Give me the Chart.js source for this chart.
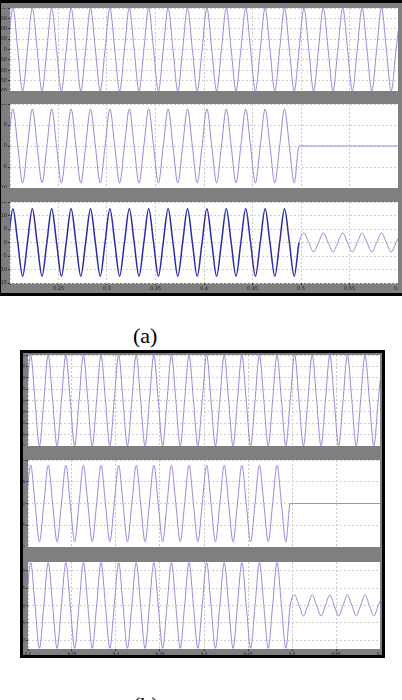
<!DOCTYPE html>
<html>
<head>
<meta charset="utf-8">
<script src="https://cdn.jsdelivr.net/npm/chart.js@4.4.0/dist/chart.umd.min.js"></script>
<style>
  body { margin: 0; width: 402px; height: 700px; background: #fff; position: relative; overflow: hidden; }
  .frame { position: absolute; background: #7f7f7f; box-sizing: border-box; }
  canvas { position: absolute; }
  .cap { position: absolute; font-family: "Liberation Serif", serif; font-size: 22px; line-height: 22px; color: #000; }
</style>
</head>
<body>
<div class="frame" style="left:0;top:0;width:402px;height:296px;border-top:3px solid #000;border-bottom:3px solid #000;border-left:1px solid #000;"></div>
<div class="frame" style="left:20px;top:350px;width:365px;height:308px;border:3px solid #000;"></div>

<canvas id="a1" width="398" height="83" style="left:0;top:8px"></canvas>
<canvas id="a2" width="398" height="84" style="left:0;top:104px"></canvas>
<canvas id="a3" width="398" height="91" style="left:0;top:202px"></canvas>

<canvas id="b1" width="357" height="91" style="left:23px;top:355px"></canvas>
<canvas id="b2" width="357" height="87" style="left:23px;top:460px"></canvas>
<canvas id="b3" width="357" height="95" style="left:23px;top:562px"></canvas>

<div class="cap" style="left:133px;top:325px">(a)</div>
<div class="cap" style="left:133px;top:694px">(b)</div>

<script>
// time stamps (s): zero crossings and peaks
const times = [
  0.198, 0.203, 0.208, 0.213, 0.218, 0.223, 0.228, 0.233, 0.238, 0.243,
  0.248, 0.253, 0.258, 0.263, 0.268, 0.273, 0.278, 0.283, 0.288, 0.293,
  0.298, 0.303, 0.308, 0.313, 0.318, 0.323, 0.328, 0.333, 0.338, 0.343,
  0.348, 0.353, 0.358, 0.363, 0.368, 0.373, 0.378, 0.383, 0.388, 0.393,
  0.398, 0.403, 0.408, 0.413, 0.418, 0.423, 0.428, 0.433, 0.438, 0.443,
  0.448, 0.453, 0.458, 0.463, 0.468, 0.473, 0.478, 0.483, 0.488, 0.493,
  0.498, 0.503, 0.508, 0.513, 0.518, 0.523, 0.528, 0.533, 0.538, 0.543,
  0.548, 0.553, 0.558, 0.563, 0.568, 0.573, 0.578, 0.583, 0.588, 0.593,
  0.598, 0.603
];

// (a) top: source voltage
const voltageA = [
  0, 200, 0, -200, 0, 200, 0, -200, 0, 200,
  0, -200, 0, 200, 0, -200, 0, 200, 0, -200,
  0, 200, 0, -200, 0, 200, 0, -200, 0, 200,
  0, -200, 0, 200, 0, -200, 0, 200, 0, -200,
  0, 200, 0, -200, 0, 200, 0, -200, 0, 200,
  0, -200, 0, 200, 0, -200, 0, 200, 0, -200,
  0, 200, 0, -200, 0, 200, 0, -200, 0, 200,
  0, -200, 0, 200, 0, -200, 0, 200, 0, -200,
  0, 200
];
// (a) middle: compensating current, off after 0.5 s
const currentA = [
  0, 8.8, 0, -8.8, 0, 8.8, 0, -8.8, 0, 8.8,
  0, -8.8, 0, 8.8, 0, -8.8, 0, 8.8, 0, -8.8,
  0, 8.8, 0, -8.8, 0, 8.8, 0, -8.8, 0, 8.8,
  0, -8.8, 0, 8.8, 0, -8.8, 0, 8.8, 0, -8.8,
  0, 8.8, 0, -8.8, 0, 8.8, 0, -8.8, 0, 8.8,
  0, -8.8, 0, 8.8, 0, -8.8, 0, 8.8, 0, -8.8,
  0, 0, 0, 0, 0, 0, 0, 0, 0, 0,
  0, 0, 0, 0, 0, 0, 0, 0, 0, 0,
  0, 0
];
// (a) bottom: line current
const lineA = [
  0, 12.5, 0, -12.5, 0, 12.5, 0, -12.5, 0, 12.5,
  0, -12.5, 0, 12.5, 0, -12.5, 0, 12.5, 0, -12.5,
  0, 12.5, 0, -12.5, 0, 12.5, 0, -12.5, 0, 12.5,
  0, -12.5, 0, 12.5, 0, -12.5, 0, 12.5, 0, -12.5,
  0, 12.5, 0, -12.5, 0, 12.5, 0, -12.5, 0, 12.5,
  0, -12.5, 0, 12.5, 0, -12.5, 0, 12.5, 0, -12.5,
  0, 3.5, 0, -3.5, 0, 3.5, 0, -3.5, 0, 3.5,
  0, -3.5, 0, 3.5, 0, -3.5, 0, 3.5, 0, -3.5,
  0, 3.5
];

const voltageB = voltageA.slice();
const currentB = currentA.slice();
const lineB = [
  0, 12.3, 0, -12.3, 0, 12.3, 0, -12.3, 0, 12.3,
  0, -12.3, 0, 12.3, 0, -12.3, 0, 12.3, 0, -12.3,
  0, 12.3, 0, -12.3, 0, 12.3, 0, -12.3, 0, 12.3,
  0, -12.3, 0, 12.3, 0, -12.3, 0, 12.3, 0, -12.3,
  0, 12.3, 0, -12.3, 0, 12.3, 0, -12.3, 0, 12.3,
  0, -12.3, 0, 12.3, 0, -12.3, 0, 12.3, 0, -12.3,
  0, 3, 0, -3, 0, 3, 0, -3, 0, 3,
  0, -3, 0, 3, 0, -3, 0, 3, 0, -3,
  0, 3
];

// tick labels
const xTicks = [0.2, 0.25, 0.3, 0.35, 0.4, 0.45, 0.5, 0.55, 0.6];
const yTicksV = [-200, -150, -100, -50, 0, 50, 100, 150, 200];
const yTicksI = [-10, -5, 0, 5, 10];
const yTicksLA = [-15, -10, -5, 0, 5, 10, 15];
const yTicksLB = [-10, -5, 0, 5, 10];

const lightBlue = '#8e8ed8';
const darkBlue = '#2a2aa6';

// white plot area on the grey scope background
const whiteArea = {
  id: 'whiteArea',
  beforeDraw(chart) {
    const { ctx, chartArea: a } = chart;
    ctx.save();
    ctx.fillStyle = '#fff';
    ctx.fillRect(a.left, a.top, a.width, a.height);
    ctx.restore();
  }
};

function fmt(v) {
  return String(Number(v.toFixed(2)));
}

function makePanel(id, values, yTicks, o) {
  const ctx = document.getElementById(id).getContext('2d');
  const ds = {
    data: times.map((t, i) => ({ x: t, y: values[i] })),
    borderColor: lightBlue,
    borderWidth: 1,
    pointRadius: 0,
    cubicInterpolationMode: 'monotone'
  };
  if (o.darkUntil) {
    ds.segment = {
      borderColor: c => c.p0.parsed.x < o.darkUntil ? darkBlue : lightBlue,
      borderWidth: c => c.p0.parsed.x < o.darkUntil ? 1.5 : 1
    };
  }
  return new Chart(ctx, {
    type: 'line',
    data: { datasets: [ds] },
    plugins: [whiteArea],
    options: {
      responsive: false,
      animation: false,
      devicePixelRatio: 1,
      layout: { padding: 0 },
      plugins: { legend: { display: false }, tooltip: { enabled: false } },
      scales: {
        x: {
          type: 'linear',
          min: 0.2,
          max: 0.6,
          afterBuildTicks: s => { s.ticks = xTicks.map(v => ({ value: v })); },
          afterFit: s => {
            s.height = o.xh;
            s.paddingLeft = 0;
            s.paddingRight = 0;
          },
          ticks: {
            display: o.xh > 0,
            font: { size: o.font, family: 'DejaVu Sans' },
            color: '#222',
            padding: 1,
            maxRotation: 0,
            autoSkip: false,
            callback: v => (o.skipFirstX && v === 0.2) ? '' : fmt(v)
          },
          grid: { color: '#c9c9c9', tickLength: 2, drawTicks: o.xh > 0, tickColor: '#333' },
          border: { display: false, dash: [2, 2] }
        },
        y: {
          min: yTicks[0] - (o.yPad || 0),
          max: yTicks[yTicks.length - 1] + (o.yPad || 0),
          afterBuildTicks: s => { s.ticks = yTicks.map(v => ({ value: v })); },
          afterFit: s => {
            s.width = o.yw;
            s.paddingTop = 0;
            s.paddingBottom = 0;
          },
          ticks: {
            font: { size: o.font, family: 'DejaVu Sans' },
            color: '#222',
            padding: 1,
            autoSkip: false
          },
          grid: { color: '#cfcfcf', tickLength: 2, tickColor: '#333' },
          border: { display: false, dash: [2, 2] }
        }
      }
    }
  });
}

makePanel('a1', voltageA, yTicksV, { yw: 10, xh: 0, font: 5 });
makePanel('a2', currentA, yTicksI, { yw: 10, xh: 0, font: 5 });
makePanel('a3', lineA, yTicksLA, { yw: 10, xh: 10, font: 5, skipFirstX: true, darkUntil: 0.498 });

makePanel('b1', voltageB, yTicksV, { yw: 5, xh: 0, font: 4 });
makePanel('b2', currentB, yTicksI, { yw: 5, xh: 0, font: 4 });
makePanel('b3', lineB, yTicksLB, { yw: 5, xh: 8, font: 4, yPad: 2.5 });
</script>
</body>
</html>
